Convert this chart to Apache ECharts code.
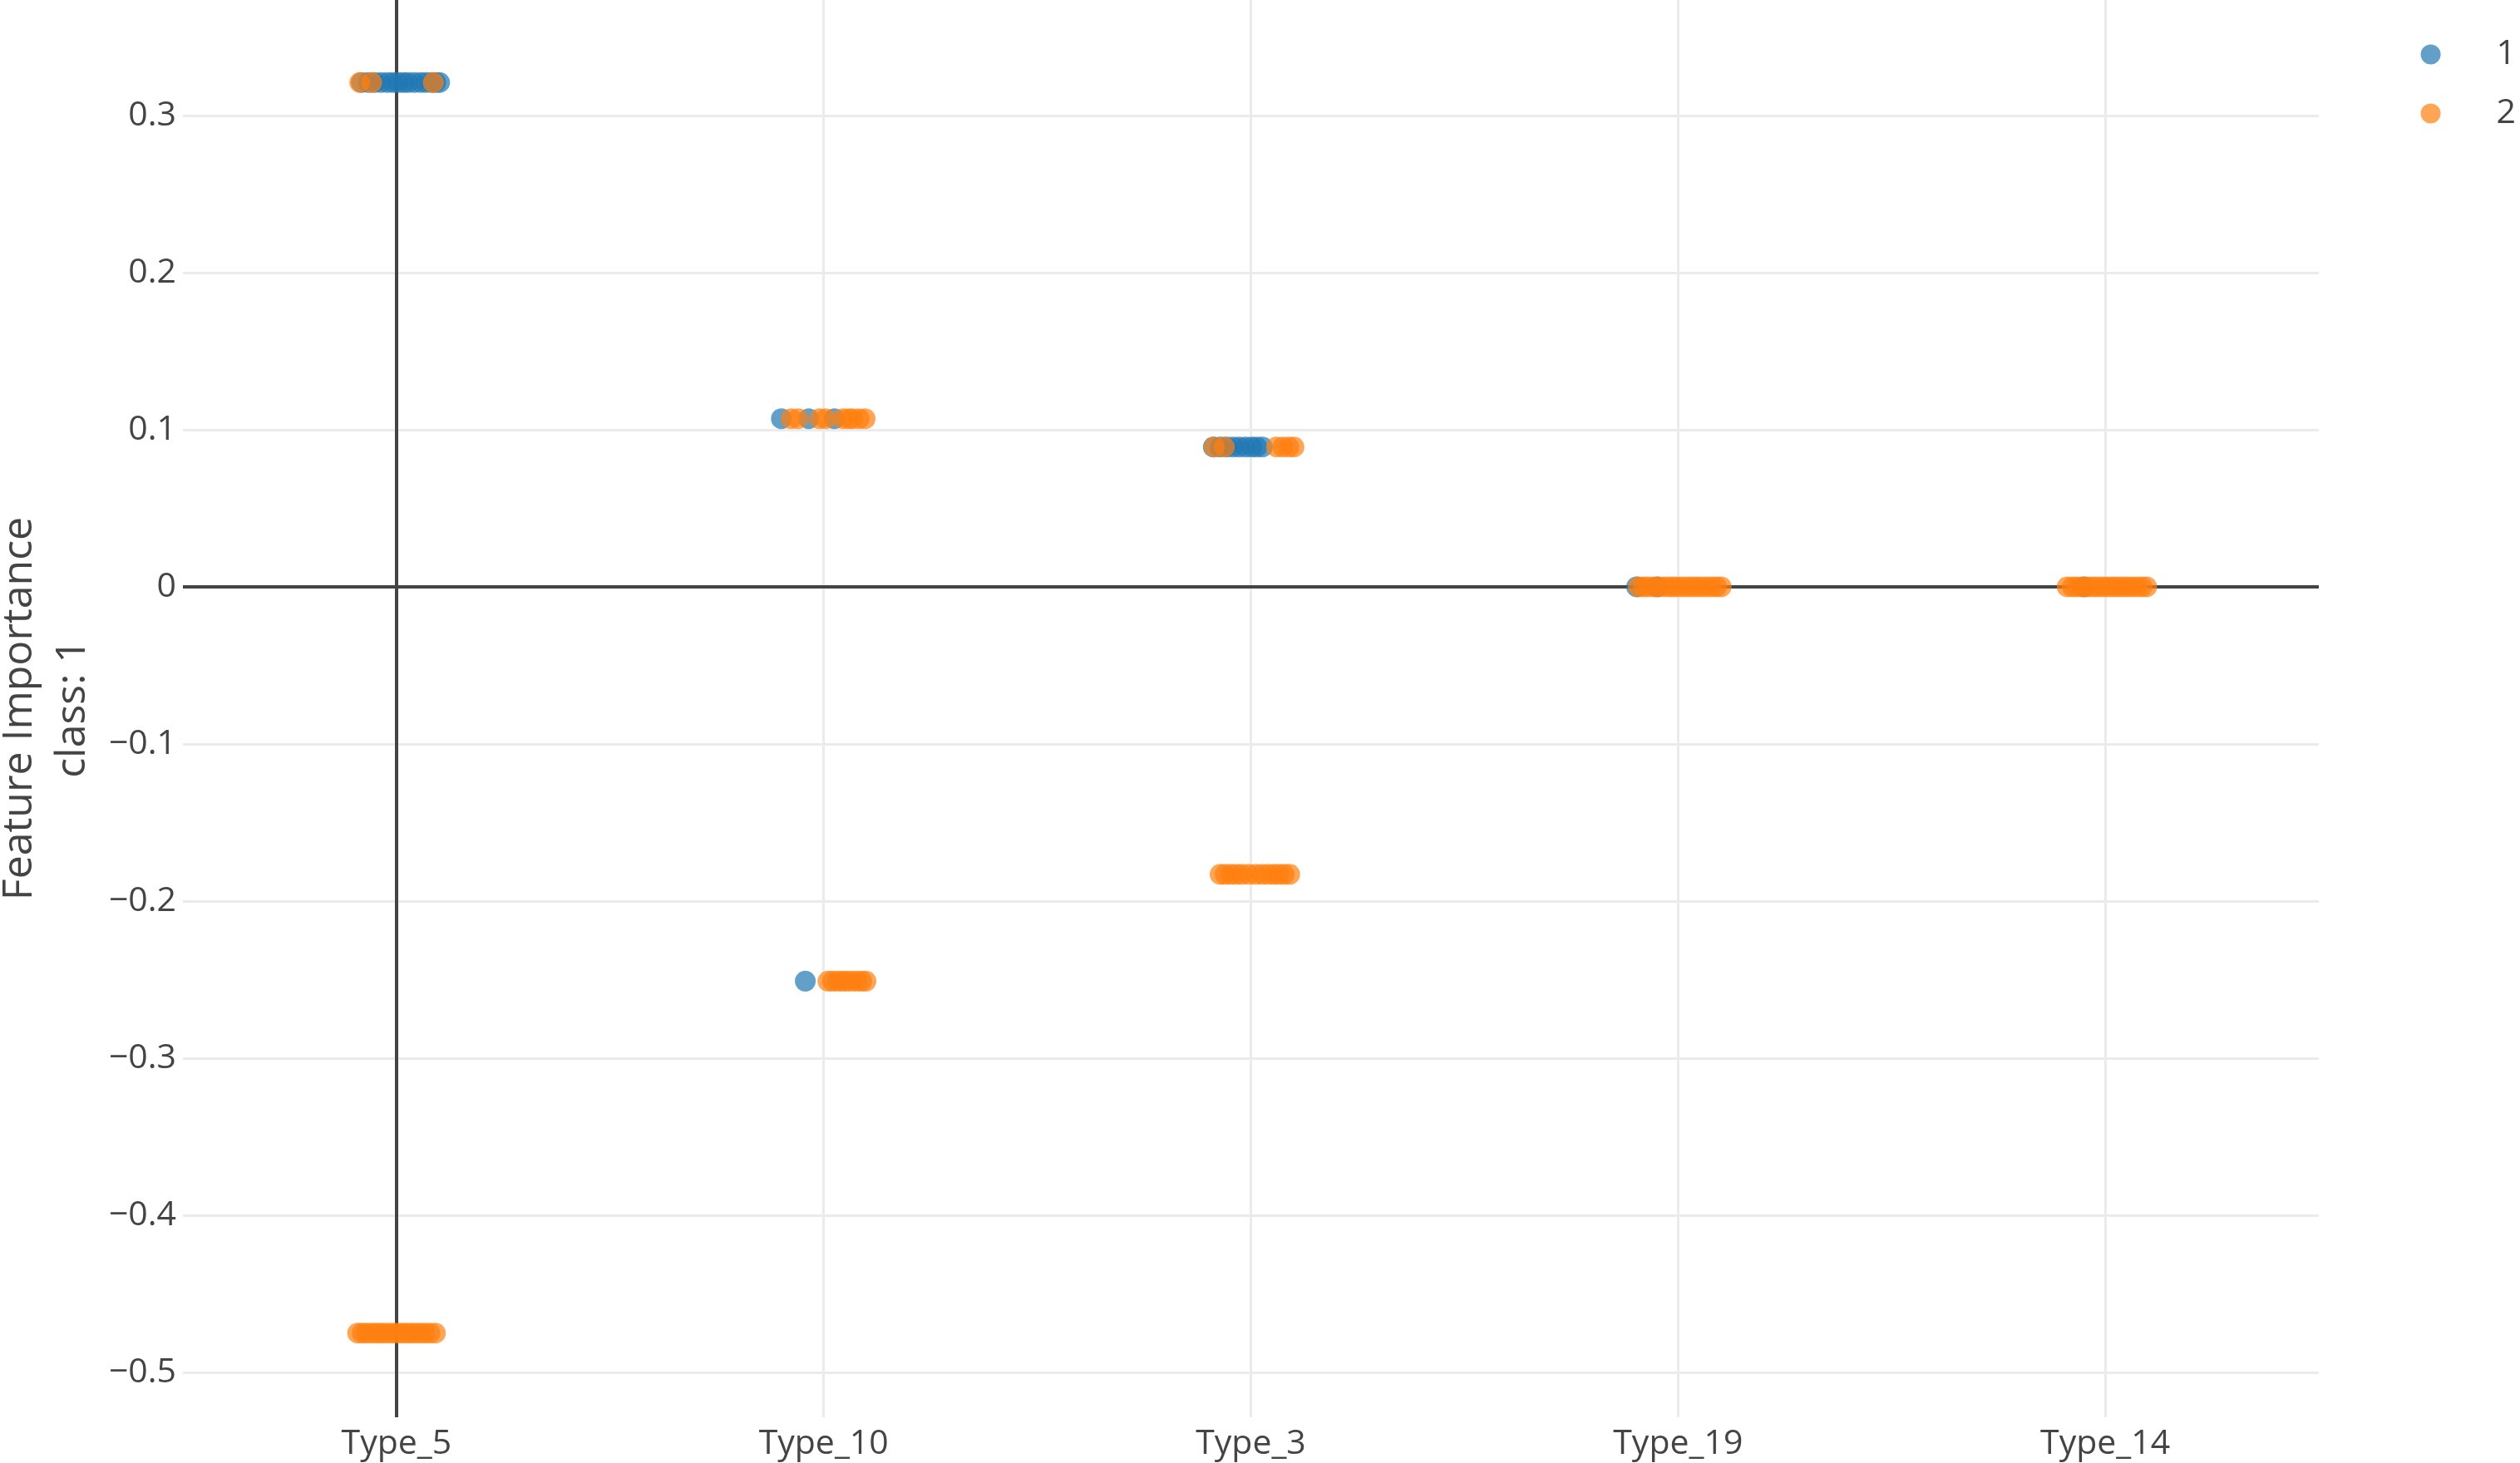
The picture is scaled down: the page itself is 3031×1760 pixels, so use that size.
<!DOCTYPE html>
<html>
<head>
<meta charset="utf-8">
<script src="https://cdn.jsdelivr.net/npm/echarts@6.0.0/dist/echarts.min.js"></script>
<style>
  html, body { margin: 0; padding: 0; background: #fff; }
  #chart { width: 3031px; height: 1760px; }
</style>
</head>
<body>
<div id="chart"></div>
<script>
// categories on the x axis
const categories = ["Type_5", "Type_10", "Type_3", "Type_19", "Type_14"];

// class 1 (blue): one entry per cluster -> feature, importance, jitter offsets (category units)
const class1Type = ["Type_5", "Type_10", "Type_10", "Type_3", "Type_19", "Type_14"];
const class1Value = [0.321, 0.107, -0.251, 0.089, 0, 0];
const class1Jitter = [
  [-0.082, -0.066, -0.051, -0.036, -0.021, -0.008, 0.004, 0.016, 0.027, 0.041, 0.056, 0.069, 0.082, 0.092, 0.101],
  [-0.099, -0.035, 0.025],
  [-0.043],
  [-0.088, -0.072, -0.056, -0.041, -0.027, -0.012, 0.002, 0.014, 0.027],
  [-0.097, -0.049],
  [-0.05],
];

// class 2 (orange)
const class2Type = ["Type_5", "Type_5", "Type_10", "Type_10", "Type_3", "Type_3", "Type_19", "Type_14"];
const class2Value = [0.321, -0.475, 0.107, -0.251, 0.089, -0.183, 0, 0];
const class2Jitter = [
  [-0.086, -0.058, 0.086],
  [-0.091, -0.080, -0.070, -0.058, -0.047, -0.036, -0.025, -0.013, -0.002, 0.010, 0.021, 0.032, 0.043, 0.055, 0.066, 0.078, 0.091],
  [-0.076, -0.060, -0.010, 0.005, 0.045, 0.058, 0.068, 0.083, 0.097],
  [0.010, 0.021, 0.033, 0.044, 0.054, 0.066, 0.078, 0.089, 0.099],
  [-0.086, -0.062, 0.060, 0.075, 0.089, 0.101],
  [-0.072, -0.060, -0.047, -0.034, -0.021, -0.005, 0.012, 0.027, 0.041, 0.054, 0.066, 0.078, 0.091],
  [-0.093, -0.081, -0.070, -0.057, -0.045, -0.032, -0.019, -0.008, 0.004, 0.017, 0.029, 0.041, 0.053, 0.066, 0.078, 0.090, 0.101],
  [-0.089, -0.077, -0.066, -0.054, -0.043, -0.031, -0.020, -0.008, 0.004, 0.016, 0.027, 0.039, 0.050, 0.062, 0.074, 0.086, 0.097],
];

// y axis range
const yMin = -0.5286;
const yMax = 0.3735;

const toPoints = (types, values, jitter) => {
  const pts = [];
  types.forEach((t, i) => {
    jitter[i].forEach((j) => {
      pts.push([categories.indexOf(t) + j, values[i]]);
    });
  });
  return pts;
};

const fontFamily = "'Open Sans', 'Noto Sans', sans-serif";
const textColor = "#444";
const gridColor = "#ebebeb";

const chart = echarts.init(document.getElementById("chart"));

const option = {
  animation: false,
  backgroundColor: "#fff",
  textStyle: { fontFamily: fontFamily },
  grid: {
    left: 220,
    right: 242,
    top: 0,
    bottom: 55,
    containLabel: false,
    outerBoundsMode: "none",
  },
  legend: {
    orient: "vertical",
    right: 0,
    top: 40,
    itemWidth: 24,
    itemHeight: 24,
    itemGap: 30,
    icon: "circle",
    data: ["1", "2"],
    textStyle: {
      fontSize: 41,
      color: textColor,
      fontFamily: fontFamily,
      padding: [0, 0, 0, 62],
    },
  },
  xAxis: {
    type: "value",
    min: -0.5,
    max: 4.5,
    splitNumber: 5,
    axisLine: { show: false },
    axisTick: { show: false },
    axisLabel: {
      color: textColor,
      fontSize: 41,
      margin: 12,
      showMinLabel: false,
      showMaxLabel: false,
      formatter: (v) => categories[v] || "",
    },
    splitLine: {
      show: true,
      showMinLine: false,
      showMaxLine: false,
      lineStyle: { color: gridColor, width: 3 },
    },
  },
  yAxis: {
    type: "value",
    min: yMin,
    max: yMax,
    splitNumber: 9,
    name: "Feature Importance\nclass: 1",
    nameLocation: "middle",
    nameRotate: 90,
    nameGap: 100,
    nameTextStyle: { fontSize: 50, color: textColor, lineHeight: 64 },
    axisLine: { show: false },
    axisTick: { show: false },
    axisLabel: {
      color: textColor,
      fontSize: 41,
      margin: 8,
      showMinLabel: false,
      showMaxLabel: false,
      formatter: (v) => (v === 0 ? "0" : String(+v.toFixed(1)).replace("-", "\u2212")),
    },
    splitLine: {
      show: true,
      showMinLine: false,
      showMaxLine: false,
      lineStyle: { color: gridColor, width: 3 },
    },
  },
  series: [
    {
      name: "1",
      type: "scatter",
      symbol: "circle",
      symbolSize: 25,
      z: 3,
      itemStyle: { color: "#1f77b4", opacity: 0.7 },
      emphasis: { disabled: true },
      data: toPoints(class1Type, class1Value, class1Jitter),
      markLine: {
        silent: true,
        z: 1,
        symbol: "none",
        label: { show: false },
        lineStyle: { color: "#444", width: 4, type: "solid" },
        emphasis: { disabled: true },
        data: [{ yAxis: 0 }, { xAxis: 0 }],
      },
    },
    {
      name: "2",
      type: "scatter",
      symbol: "circle",
      symbolSize: 25,
      z: 4,
      itemStyle: { color: "#ff7f0e", opacity: 0.7 },
      emphasis: { disabled: true },
      data: toPoints(class2Type, class2Value, class2Jitter),
    },
  ],
};

chart.setOption(option);
</script>
</body>
</html>
